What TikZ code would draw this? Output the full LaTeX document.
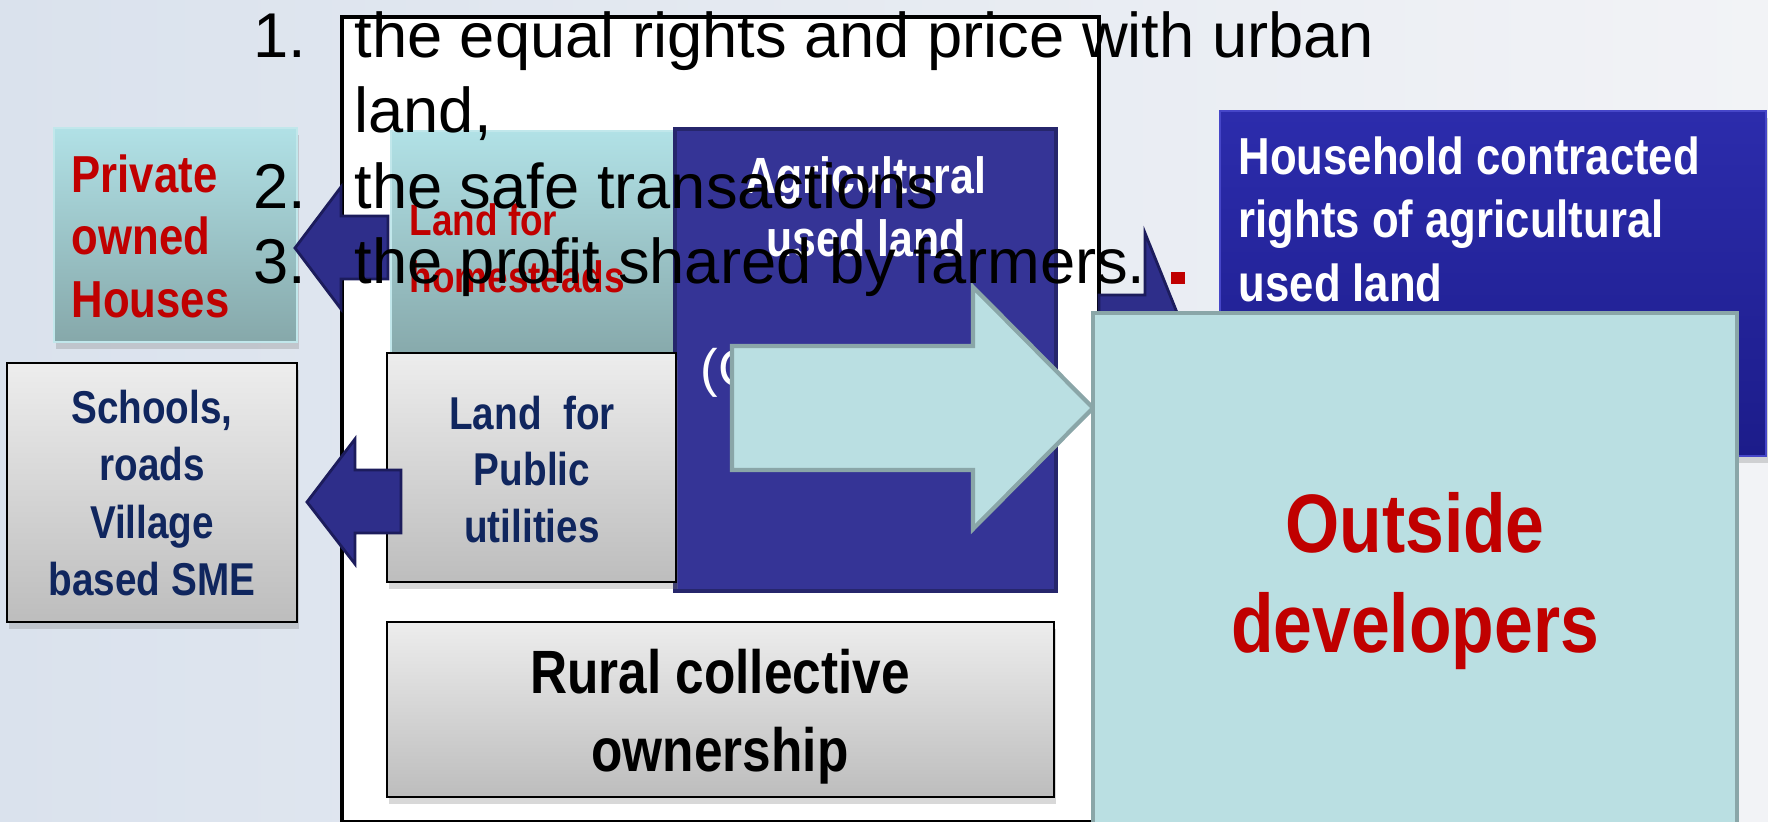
\documentclass[tikz,border=0pt]{standalone}
\usepackage{xcolor}
\usepackage{tikz}
\usetikzlibrary{shadows}
\usepackage{fontspec}
\setmainfont{Liberation Sans}
\newfontfamily\condfont[FakeStretch=0.84]{Liberation Sans}

\definecolor{bgleft}{RGB}{218,226,237}
\definecolor{bgright}{RGB}{242,243,246}
\definecolor{tealtop}{RGB}{177,225,230}
\definecolor{tealbot}{RGB}{134,168,170}
\definecolor{greytop}{RGB}{237,237,237}
\definecolor{greybot}{RGB}{189,189,189}
\definecolor{agriblue}{RGB}{53,52,150}
\definecolor{agriedge}{RGB}{38,38,108}
\definecolor{hhtop}{RGB}{44,44,172}
\definecolor{hhbot}{RGB}{28,28,138}
\definecolor{hhedge}{RGB}{70,70,200}
\definecolor{arrowblue}{RGB}{46,46,138}
\definecolor{arrowedge}{RGB}{28,28,92}
\definecolor{devfill}{RGB}{186,223,226}
\definecolor{devedge}{RGB}{138,166,168}
\definecolor{landred}{RGB}{192,0,0}
\definecolor{navytext}{RGB}{16,38,94}

\newcommand{\fs}[2]{\fontsize{#1}{#2}\selectfont}
\newcommand{\boxlines}[2][c]{\begin{tabular}[t]{@{}#1@{}}#2\end{tabular}}

\tikzset{
  txt/.style={inner sep=0pt},
  cond/.style={txt, font=\condfont\bfseries #1},
  boxshadow/.style={drop shadow={opacity=0.3, shadow xshift=0.2mm, shadow yshift=-0.7mm}},
  tealbox/.style={rectangle, top color=tealtop, bottom color=tealbot, draw=tealtop!80!white, line width=0.5pt},
  greybox/.style={rectangle, top color=greytop, bottom color=greybot, draw=black, line width=0.7pt, boxshadow},
  blockarrow/.style={fill=arrowblue, draw=arrowedge, line width=0.8pt, line join=miter},
  devarrow/.style={fill=devfill, draw=devedge, line width=1.2pt, line join=miter}
}

\begin{document}
\begin{tikzpicture}[x=0.1mm, y=-0.1mm]
\useasboundingbox (0,0) rectangle (1768,822);
\clip (0,0) rectangle (1768,822);
\fill[left color=bgleft, right color=bgright] (0,0) rectangle (1768,822);

% houses outside the frame
\node[tealbox, boxshadow, minimum width=24.3mm, minimum height=21.4mm] (private) at (175.5,235) {};

% frame
\draw[fill=white, line width=1.4pt] (342,17) rectangle (1099,822);

% land inside the collective
\node[tealbox, minimum width=28.3mm, minimum height=22.9mm] (homestead) at (532.5,245.5) {};
\node[rectangle, fill=agriblue, draw=agriedge, line width=1pt, minimum width=38.1mm, minimum height=46.2mm] (agri) at (865.5,360) {};
\node[greybox, minimum width=28.9mm, minimum height=22.9mm] (public) at (531.5,467.5) {};
\node[greybox, minimum width=29mm, minimum height=25.9mm] (schools) at (152,492.5) {};
\node[greybox, minimum width=66.7mm, minimum height=17.5mm] (rural) at (720.5,709.5) {};

% arrows to the left
\draw[blockarrow] (388,216) -- (341,216) -- (341,187) -- (295,248) -- (341,309) -- (341,279) -- (388,279) -- cycle;
\draw[blockarrow] (401,470) -- (355,470) -- (355,439) -- (307,502) -- (355,564) -- (355,533) -- (401,533) -- cycle;

\node[txt, anchor=base west, text=white, font=\fs{15}{18}] (agrihidden) at (700,386) {(C};

% arrow to the developers
\draw[devarrow] (732,346) -- (973,346) -- (973,287) -- (1093,408) -- (973,529) -- (973,470) -- (732,470) -- cycle;

% contracted rights
\draw[blockarrow] (1099,295) -- (1145,295) -- (1145,233) -- (1188,340) -- (1145,447) -- (1145,385) -- (1099,385) -- cycle;
\node[rectangle, top color=hhtop, bottom color=hhbot, draw=hhedge, line width=0.8pt, boxshadow, minimum width=54.6mm, minimum height=34.5mm] (household) at (1493,283.5) {};
\node[rectangle, fill=devfill, draw=devedge, line width=1.2pt, minimum width=64.4mm, minimum height=53mm] (outside) at (1415,578) {};
\fill[landred] (1171,272) rectangle (1185,284);

% box texts
\node[cond={\fs{14.8}{17.9}}, anchor=base west, text=landred] (privatetxt) at (71,192) {\boxlines[l]{Private\\owned\\Houses}};
\node[cond={\fs{12.5}{16.5}}, anchor=base west, text=landred] (homesteadtxt) at (409,235) {\boxlines[l]{Land for\\homesteads}};
\node[cond={\fs{14.5}{18.2}}, anchor=base, text=white] (agritxt) at (866,193) {\boxlines{Agricultural\\used land}};
\node[cond={\fs{14.8}{18.2}}, anchor=base west, text=white] (householdtxt) at (1238,174) {\boxlines[l]{Household contracted\\rights of agricultural\\used land}};
\node[cond={\fs{13.1}{16.4}}, anchor=base, text=navytext] (schoolstxt) at (152,423) {\boxlines{Schools,\\roads\\Village\\based SME}};
\node[cond={\fs{13.1}{16.2}}, anchor=base, text=navytext] (publictxt) at (532,429) {\boxlines{Land\ \ for\\Public\\utilities}};
\node[cond={\fs{17.4}{22.2}}, anchor=base, text=black] (ruraltxt) at (720,693) {\boxlines{Rural collective\\ownership}};
\node[cond={\fs{23.6}{28.7}}, anchor=base, text=landred] (outsidetxt) at (1415,552) {\boxlines{Outside\\developers}};

% the three conditions
\node[txt, anchor=base west, font=\fs{18}{21.5}] (conditions) at (253,57) {%
\begin{tabular}[t]{@{}r@{\hspace{4.8mm}}l@{}}
1. & the equal rights and price with urban\\
   & land,\\
2. & the safe transactions\\
3. & the profit shared by farmers.
\end{tabular}};
\end{tikzpicture}
\end{document}
